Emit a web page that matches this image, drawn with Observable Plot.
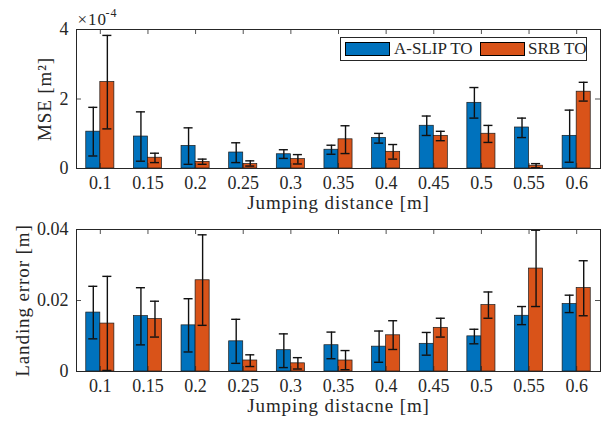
<!DOCTYPE html>
<html><head><meta charset="utf-8">
<script src="https://cdn.jsdelivr.net/npm/d3@7"></script>
<script src="https://cdn.jsdelivr.net/npm/@observablehq/plot@0.6"></script>
<style>
body{margin:0;background:#fff;}
#c{width:602px;height:424px;position:relative;font-family:"Liberation Serif",serif;color:#262626;}
#c svg{display:block;}
#c g[aria-label="text"] text{letter-spacing:0.9px;}
.leg{position:absolute;left:340px;top:37px;width:247px;height:24px;border:1px solid #262626;background:#fff;box-sizing:border-box;font-size:17px;}
.sw{position:absolute;top:4px;width:45px;height:14px;border:1px solid #000;box-sizing:border-box;}
.lt{position:absolute;top:1px;line-height:20px;white-space:nowrap;}
</style>
</head><body><div id="c"></div>
<script>
// ---- data ----
const distances = ["0.1","0.15","0.2","0.25","0.3","0.35","0.4","0.45","0.5","0.55","0.6"];
const seriesNames = ["A-SLIP TO","SRB TO"];
const seriesColors = ["#0072BD","#D95319"];

// MSE (x 1e-4 m^2)
const mseSlip   = [1.06,0.92,0.65,0.46,0.41,0.54,0.88,1.23,1.89,1.18,0.94];
const mseSlipLo = [0.36,0.21,0.12,0.17,0.29,0.41,0.73,0.95,1.45,0.89,0.18];
const mseSlipHi = [1.76,1.63,1.17,0.74,0.54,0.67,1.01,1.51,2.33,1.45,1.68];
const mseSrb    = [2.49,0.31,0.19,0.13,0.27,0.84,0.48,0.94,1.00,0.08,2.21];
const mseSrbLo  = [1.14,0.17,0.12,0.07,0.13,0.43,0.27,0.80,0.75,0.02,1.94];
const mseSrbHi  = [3.83,0.44,0.27,0.22,0.40,1.23,0.69,1.07,1.24,0.14,2.48];

// Landing error (m)
const landSlip   = [0.0166,0.0156,0.0130,0.0085,0.0060,0.0074,0.0070,0.0078,0.0099,0.0157,0.0190];
const landSlipLo = [0.0092,0.0075,0.0055,0.0023,0.0011,0.0036,0.0026,0.0046,0.0078,0.0132,0.0166];
const landSlipHi = [0.0240,0.0236,0.0205,0.0147,0.0106,0.0111,0.0114,0.0110,0.0119,0.0183,0.0215];
const landSrb    = [0.0135,0.0148,0.0257,0.0031,0.0023,0.0031,0.0102,0.0123,0.0187,0.0290,0.0235];
const landSrbLo  = [0.0003,0.0097,0.0130,0.0014,0.0007,0.0005,0.0062,0.0097,0.0150,0.0183,0.0157];
const landSrbHi  = [0.0268,0.0198,0.0385,0.0047,0.0039,0.0059,0.0143,0.0150,0.0224,0.0398,0.0312];

const mseTicks = [0,2,4];
const landTicks = [0,0.02,0.04];
const landTickLabels = ["0","0.02","0.04"];

// ---- build ----
const FONT = "Liberation Serif";
const TXT = "#262626";
const BAR_W = 0.295, CAP = 0.095, TICK = 5;

function rows(a, aLo, aHi, b, bLo, bHi) {
  const out = [];
  distances.forEach((d, k) => {
    out.push({i: k + 1, s: 0, v: a[k], lo: aLo[k], hi: aHi[k]});
    out.push({i: k + 1, s: 1, v: b[k], lo: bLo[k], hi: bHi[k]});
  });
  return out;
}

function panel({data, yDomain, yTicks, yFmt, yLabel, yLabelShift, xLabel, height, mTop, mBottom, extra = []}) {
  const mLeft = 76, mRight = 2;
  const innerH = height - mTop - mBottom;
  const innerW = 602 - mLeft - mRight;
  const xTicks = d3.range(1, distances.length + 1);
  const x1 = d => d.s === 0 ? d.i - BAR_W : d.i;
  const x2 = d => d.s === 0 ? d.i : d.i + BAR_W;
  const cx = d => d.s === 0 ? d.i - BAR_W / 2 : d.i + BAR_W / 2;
  return Plot.plot({
    width: 602, height,
    marginLeft: mLeft, marginRight: mRight, marginTop: mTop, marginBottom: mBottom,
    style: {fontFamily: FONT, fontSize: "18px", color: TXT, background: "#fff"},
    x: {type: "linear", domain: [0.5, distances.length + 0.5]},
    y: {domain: yDomain},
    marks: [
      Plot.rectY(data, {x1, x2, y1: 0, y2: "v", fill: d => seriesColors[d.s], stroke: "#1a1a1a", strokeWidth: 0.7}),
      Plot.ruleX(data, {x: cx, y1: "lo", y2: "hi", stroke: "#111", strokeWidth: 1.4}),
      Plot.ruleY(data, {y: "hi", x1: d => cx(d) - CAP, x2: d => cx(d) + CAP, stroke: "#111", strokeWidth: 1.4}),
      Plot.ruleY(data, {y: "lo", x1: d => cx(d) - CAP, x2: d => cx(d) + CAP, stroke: "#111", strokeWidth: 1.4}),
      // inward ticks
      Plot.ruleX(xTicks, {x: d => d, insetBottom: innerH - TICK, stroke: TXT, strokeWidth: 0.8}),
      Plot.ruleX(xTicks, {x: d => d, insetTop: innerH - TICK, stroke: TXT, strokeWidth: 0.8}),
      Plot.ruleY(yTicks, {y: d => d, insetRight: innerW - TICK, stroke: TXT, strokeWidth: 0.8}),
      Plot.ruleY(yTicks, {y: d => d, insetLeft: innerW - TICK, stroke: TXT, strokeWidth: 0.8}),
      Plot.frame({stroke: TXT, strokeWidth: 1}),
      Plot.axisX({ticks: xTicks, tickFormat: i => distances[i - 1], tickSize: 0, tickPadding: 8, label: null, fill: TXT, fontSize: 18}),
      Plot.axisY({ticks: yTicks, tickFormat: yFmt, tickSize: 0, tickPadding: 8, label: null, fill: TXT, fontSize: 18}),
      Plot.text([xLabel], {text: d => d, frameAnchor: "bottom", dy: 40, fill: TXT, fontSize: 19}),
      Plot.text([yLabel], {text: d => d, frameAnchor: "left", textAnchor: "middle", dx: yLabelShift, rotate: -90, fill: TXT, fontSize: 19}),
      ...extra
    ]
  });
}

const topPanel = panel({
  data: rows(mseSlip, mseSlipLo, mseSlipHi, mseSrb, mseSrbLo, mseSrbHi),
  yDomain: [0, 4], yTicks: mseTicks, yFmt: d => String(d),
  yLabel: "MSE [m²]", yLabelShift: -32, xLabel: "Jumping distance [m]",
  height: 216, mTop: 29, mBottom: 48,
  extra: [
    Plot.text(["×10"], {text: d => d, frameAnchor: "top-left", textAnchor: "start", lineAnchor: "middle", dx: 1, dy: -10, fill: TXT, fontSize: 17}),
    Plot.text(["-4"], {text: d => d, frameAnchor: "top-left", textAnchor: "start", lineAnchor: "middle", dx: 29, dy: -16, fill: TXT, fontSize: 12})
  ]
});

const bottomPanel = panel({
  data: rows(landSlip, landSlipLo, landSlipHi, landSrb, landSrbLo, landSrbHi),
  yDomain: [0, 0.04], yTicks: landTicks, yFmt: d => landTickLabels[landTicks.indexOf(d)],
  yLabel: "Landing error [m]", yLabelShift: -54, xLabel: "Jumping distacne [m]",
  height: 208, mTop: 13, mBottom: 53
});

const c = document.getElementById("c");
c.appendChild(topPanel);
c.appendChild(bottomPanel);

// legend
const leg = document.createElement("div");
leg.className = "leg";
const items = [{sw: 4, tx: 53}, {sw: 139, tx: 187}];
seriesNames.forEach((n, k) => {
  const sw = document.createElement("div");
  sw.className = "sw"; sw.style.left = items[k].sw + "px"; sw.style.background = seriesColors[k];
  const t = document.createElement("div");
  t.className = "lt"; t.style.left = items[k].tx + "px"; t.textContent = n;
  leg.appendChild(sw); leg.appendChild(t);
});
c.appendChild(leg);
</script>
</body></html>
